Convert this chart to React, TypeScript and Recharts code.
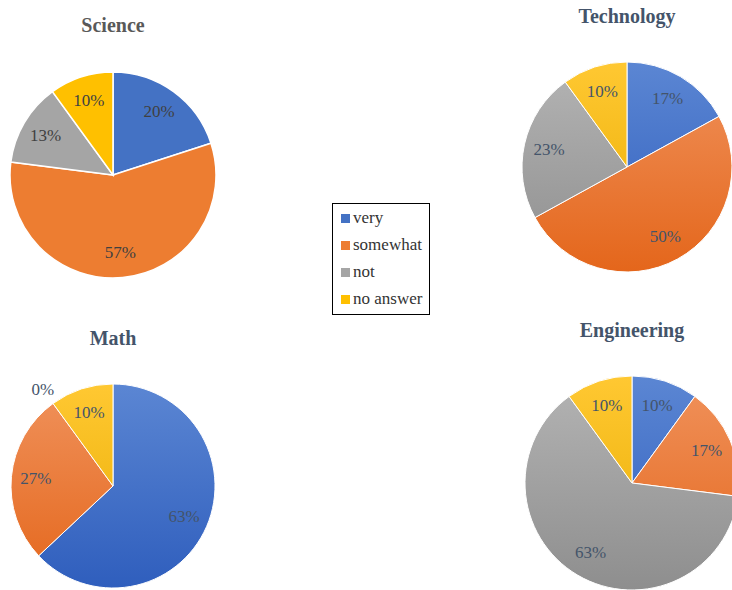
import React from "react";
import { PieChart, Pie, Cell } from "recharts";

const categories = ["very", "somewhat", "not", "no answer"];
const scienceValues = [20, 57, 13, 10];
const technologyValues = [17, 50, 23, 10];
const mathValues = [63, 27, 0, 10];
const engineeringValues = [10, 17, 63, 10];
const titles = ["Science", "Technology", "Math", "Engineering"];

const flatColors = ["#4472C4", "#ED7D31", "#A5A5A5", "#FFC000"];
const gradTop = ["#5B86D3", "#F0925C", "#B4B4B4", "#FFC832"];
const gradBottom = ["#2F5EBD", "#E4661B", "#8E8E8E", "#E8AC00"];

const W = 732;
const H = 590;
const SERIF = "Liberation Serif";

type PieSpec = {
  key: string;
  title: string;
  values: number[];
  cx: number;
  cy: number;
  r: number;
  gradient: boolean;
  titleColor: string;
  labelColor: string;
  titleY: number;
};

const pies: PieSpec[] = [
  { key: "sci", title: titles[0], values: scienceValues, cx: 113, cy: 175, r: 103, gradient: false, titleColor: "#595959", labelColor: "#404040", titleY: 25 },
  { key: "tech", title: titles[1], values: technologyValues, cx: 627, cy: 167, r: 105, gradient: true, titleColor: "#44546A", labelColor: "#44546A", titleY: 16 },
  { key: "math", title: titles[2], values: mathValues, cx: 113, cy: 486, r: 102, gradient: true, titleColor: "#44546A", labelColor: "#44546A", titleY: 338 },
  { key: "eng", title: titles[3], values: engineeringValues, cx: 632, cy: 483, r: 107, gradient: true, titleColor: "#44546A", labelColor: "#44546A", titleY: 330 },
];

const RAD = Math.PI / 180;

const makeLabel = (color: string) => (props: any) => {
  const { cx, cy, midAngle, outerRadius, value } = props;
  const f = value === 0 ? 1.17 : 0.76;
  const x = cx + outerRadius * f * Math.cos(-midAngle * RAD);
  const y = cy + outerRadius * f * Math.sin(-midAngle * RAD);
  return (
    <text
      x={x}
      y={y}
      fill={color}
      textAnchor="middle"
      dominantBaseline="central"
      style={{ fontFamily: SERIF, fontSize: 17 }}
    >
      {`${value}%`}
    </text>
  );
};

export default function App() {
  return (
    <div style={{ position: "absolute", left: 0, top: 0, width: W, height: H, background: "#fff", overflow: "hidden", fontFamily: SERIF }}>
      <PieChart width={W} height={H} margin={{ top: 0, right: 0, bottom: 0, left: 0 }}>
        <defs>
          {pies.filter((p) => p.gradient).map((p) =>
            categories.map((c, i) => (
              <linearGradient
                key={`${p.key}-${i}`}
                id={`g-${p.key}-${i}`}
                gradientUnits="userSpaceOnUse"
                x1={0}
                y1={p.cy - p.r}
                x2={0}
                y2={p.cy + p.r}
              >
                <stop offset="0%" stopColor={gradTop[i]} />
                <stop offset="100%" stopColor={gradBottom[i]} />
              </linearGradient>
            ))
          )}
        </defs>
        {pies.map((p) => (
          <Pie
            key={p.key}
            data={categories.map((c, i) => ({ name: c, value: p.values[i] }))}
            dataKey="value"
            nameKey="name"
            cx={p.cx}
            cy={p.cy}
            outerRadius={p.r}
            innerRadius={0}
            startAngle={90}
            endAngle={-270}
            isAnimationActive={false}
            stroke="#ffffff"
            strokeWidth={p.gradient ? 1 : 1.5}
            label={makeLabel(p.labelColor)}
            labelLine={false}
          >
            {categories.map((c, i) => (
              <Cell key={c} fill={p.gradient ? `url(#g-${p.key}-${i})` : flatColors[i]} />
            ))}
          </Pie>
        ))}
      </PieChart>
      {pies.map((p) => (
        <div
          key={`t-${p.key}`}
          style={{
            position: "absolute",
            left: p.cx - 100,
            width: 200,
            top: p.titleY - 12,
            height: 24,
            lineHeight: "24px",
            textAlign: "center",
            fontFamily: SERIF,
            fontWeight: "bold",
            fontSize: 20,
            color: p.titleColor,
          }}
        >
          {p.title}
        </div>
      ))}
      <div
        style={{
          position: "absolute",
          left: 332,
          top: 203,
          width: 98,
          height: 112,
          border: "1px solid #000",
          fontFamily: SERIF,
          fontSize: 17,
          color: "#333333",
          boxSizing: "border-box",
        }}
      >
        {categories.map((c, i) => (
          <div
            key={c}
            style={{ position: "absolute", left: 8, top: 3 + i * 27, height: 22, lineHeight: "22px", whiteSpace: "nowrap", fontFamily: SERIF }}
          >
            <span
              style={{ display: "inline-block", width: 9, height: 9, background: flatColors[i], marginRight: 3, verticalAlign: "middle", position: "relative", top: -1 }}
            />
            {c}
          </div>
        ))}
      </div>
    </div>
  );
}
